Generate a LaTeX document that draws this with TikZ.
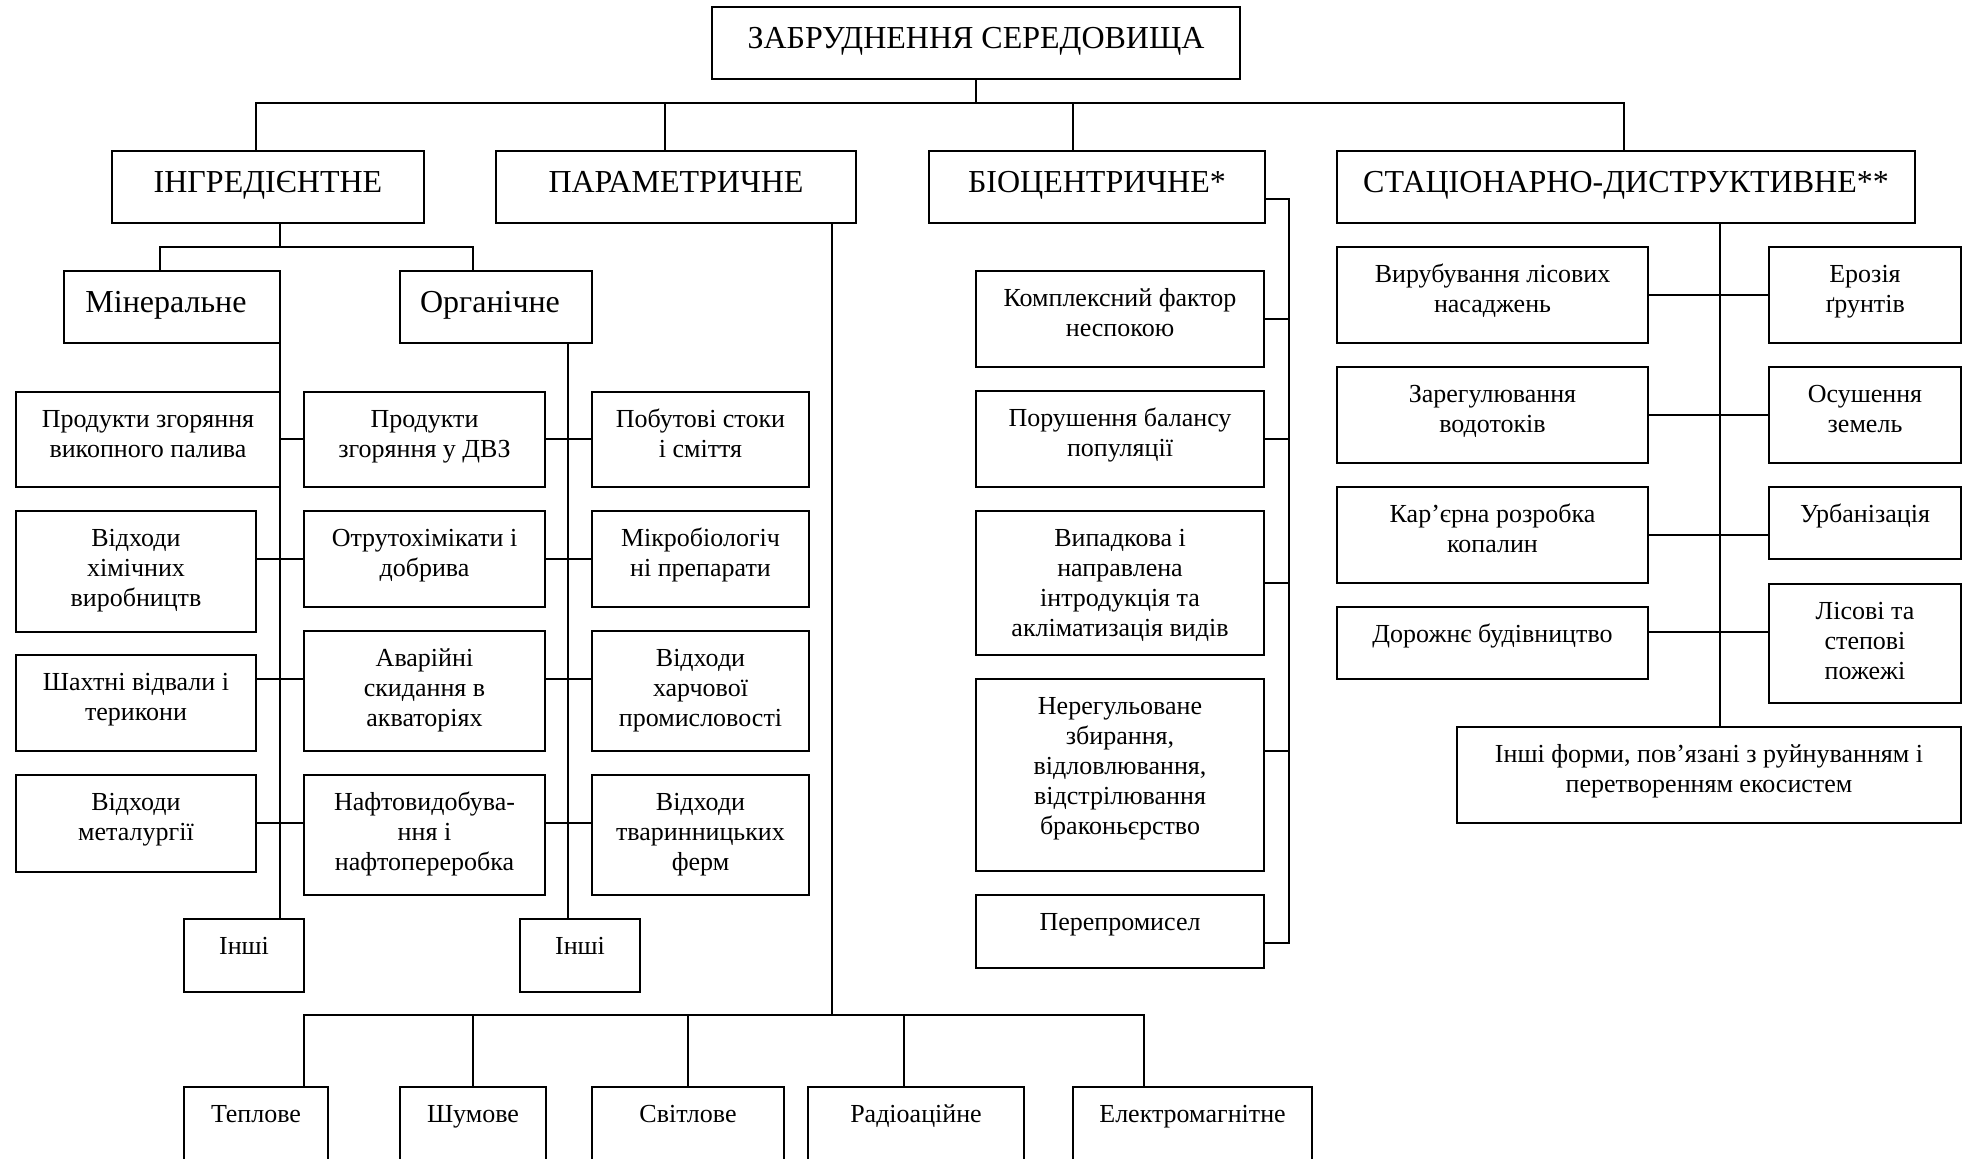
\documentclass[tikz,border=0pt]{standalone}
\usepackage{fontspec}
\setmainfont{Liberation Serif}
\usetikzlibrary{calc}
\tikzset{
 bx/.style={draw, line width=1pt, anchor=north west, inner sep=0pt, outer sep=0pt},
 lbl/.style={anchor=north, inner sep=0pt, align=center, yshift=-7.2pt},
 big/.style={font=\fontsize{16}{19}\selectfont},
 sml/.style={font=\fontsize{13}{15}\selectfont},
 ln/.style={line width=0.75pt},
}
\newcommand\mybox[7]{%
 \node[bx, minimum width={(#4-#2)*0.5pt}, minimum height={(#5-#3)*0.5pt}] (#1) at (#2,#3) {};
 \node[lbl,#6] (#1t) at (#1.north) {\strut #7};}
\begin{document}
\begin{tikzpicture}[x=0.5pt, y=-0.5pt]
\useasboundingbox (0,0) rectangle (1968,1158);
\clip (0,0) rectangle (1968,1158);
% level 0-1
\mybox{top}{712}{7}{1240}{79}{big}{ЗАБРУДНЕННЯ СЕРЕДОВИЩА}
\mybox{ingr}{112}{151}{424}{223}{big}{ІНГРЕДІЄНТНЕ}
\mybox{param}{496}{151}{856}{223}{big}{ПАРАМЕТРИЧНЕ}
\mybox{bio}{929}{151}{1265}{223}{big}{БІОЦЕНТРИЧНЕ*}
\mybox{stat}{1337}{151}{1915}{223}{big}{СТАЦІОНАРНО-ДИСТРУКТИВНЕ**}
\mybox{miner}{64}{271}{280}{343}{big,xshift=-3pt}{Мінеральне}
\mybox{organ}{400}{271}{592}{343}{big,xshift=-3pt}{Органічне}
% mineral column
\mybox{m1}{16}{392}{280}{487}{sml}{Продукти згоряння\\викопного палива}
\mybox{m2}{16}{511}{256}{632}{sml}{Відходи\\хімічних\\виробництв}
\mybox{m3}{16}{655}{256}{751}{sml}{Шахтні відвали і\\терикони}
\mybox{m4}{16}{775}{256}{872}{sml}{Відходи\\металургії}
\mybox{mI}{184}{919}{304}{992}{sml}{Інші}
% organic columns
\mybox{o1}{304}{392}{545}{487}{sml}{Продукти\\згоряння у ДВЗ}
\mybox{o2}{304}{511}{545}{607}{sml}{Отрутохімікати і\\добрива}
\mybox{o3}{304}{631}{545}{751}{sml}{Аварійні\\скидання в\\акваторіях}
\mybox{o4}{304}{775}{545}{895}{sml}{Нафтовидобува-\\ння і\\нафтопереробка}
\mybox{p1}{592}{392}{809}{487}{sml}{Побутові стоки\\і сміття}
\mybox{p2}{592}{511}{809}{607}{sml}{Мікробіологіч\\ні препарати}
\mybox{p3}{592}{631}{809}{751}{sml}{Відходи\\харчової\\промисловості}
\mybox{p4}{592}{775}{809}{895}{sml}{Відходи\\тваринницьких\\ферм}
\mybox{oI}{520}{919}{640}{992}{sml}{Інші}
% biocentric
\mybox{b1}{976}{271}{1264}{367}{sml}{Комплексний фактор\\неспокою}
\mybox{b2}{976}{391}{1264}{487}{sml}{Порушення балансу\\популяції}
\mybox{b3}{976}{511}{1264}{655}{sml}{Випадкова і\\направлена\\інтродукція та\\акліматизація видів}
\mybox{b4}{976}{679}{1264}{871}{sml}{Нерегульоване\\збирання,\\відловлювання,\\відстрілювання\\браконьєрство}
\mybox{b5}{976}{895}{1264}{968}{sml}{Перепромисел}
% stationary-destructive
\mybox{s1}{1337}{247}{1648}{343}{sml}{Вирубування лісових\\насаджень}
\mybox{s2}{1337}{367}{1648}{463}{sml}{Зарегулювання\\водотоків}
\mybox{s3}{1337}{487}{1648}{583}{sml}{Кар’єрна розробка\\копалин}
\mybox{s4}{1337}{607}{1648}{679}{sml}{Дорожнє будівництво}
\mybox{r1}{1769}{247}{1961}{343}{sml}{Ерозія\\ґрунтів}
\mybox{r2}{1769}{367}{1961}{463}{sml}{Осушення\\земель}
\mybox{r3}{1769}{487}{1961}{559}{sml}{Урбанізація}
\mybox{r4}{1769}{584}{1961}{703}{sml}{Лісові та\\степові\\пожежі}
\mybox{s5}{1457}{727}{1961}{823}{sml}{Інші форми, пов’язані з руйнуванням і\\перетворенням екосистем}
% parametric
\mybox{t1}{184}{1087}{328}{1183}{sml}{Теплове}
\mybox{t2}{400}{1087}{546}{1183}{sml}{Шумове}
\mybox{t3}{592}{1087}{784}{1183}{sml}{Світлове}
\mybox{t4}{808}{1087}{1024}{1183}{sml}{Радіоаційне}
\mybox{t5}{1073}{1087}{1312}{1183}{sml}{Електромагнітне}
% connectors: top
\coordinate (bus1) at ($(top.south)+(0,24)$);
\draw[ln] (top.south) -- (bus1);
\draw[ln] ($(ingr.north)+(-12,0)$) |- (bus1);
\draw[ln] ($(param.north)+(-11,0)$) |- (bus1);
\draw[ln] ($(bio.north)+(-24,0)$) |- (bus1);
\draw[ln] ($(stat.north)+(-2,0)$) |- (bus1);
% ingredient
\coordinate (bus2) at ($(ingr.south)+(12,24)$);
\draw[ln] ($(ingr.south)+(12,0)$) -- (bus2);
\draw[ln] ($(miner.north)+(-12,0)$) |- (bus2);
\draw[ln] ($(organ.north)+(-23,0)$) |- (bus2);
\draw[ln] (miner.south east) |- (mI.north);
\draw[ln] ($(organ.south east)+(-24,0)$) |- (oI.north);
\draw[ln] ($(o1.north west)+(0,47)$) -- ($(m1.north east)+(0,47)$);
\draw[ln] ($(o2.north west)+(0,48)$) -- ($(m2.north east)+(0,48)$);
\draw[ln] ($(o3.north west)+(0,48)$) -- ($(m3.north east)+(0,24)$);
\draw[ln] ($(o4.north west)+(0,48)$) -- ($(m4.north east)+(0,48)$);
\draw[ln] ($(o1.north east)+(0,47)$) -- ($(p1.north west)+(0,47)$);
\draw[ln] ($(o2.north east)+(0,48)$) -- ($(p2.north west)+(0,48)$);
\draw[ln] ($(o3.north east)+(0,48)$) -- ($(p3.north west)+(0,48)$);
\draw[ln] ($(o4.north east)+(0,48)$) -- ($(p4.north west)+(0,48)$);
% parametric
\coordinate (bus3) at ($(param.south east)+(-24,792)$);
\draw[ln] ($(param.south east)+(-24,0)$) -- (bus3);
\draw[ln] ($(t1.north east)+(-24,0)$) |- (bus3);
\draw[ln] (t2.north) |- (bus3);
\draw[ln] (t3.north) |- (bus3);
\draw[ln] ($(t4.north)+(-12,0)$) |- (bus3);
\draw[ln] ($(t5.north west)+(71,0)$) |- (bus3);
% biocentric
\coordinate (bv) at ($(bio.north east)+(24,48)$);
\draw[ln] ($(bio.north east)+(0,48)$) -- (bv) |- ($(b5.north east)+(0,48)$);
\draw[ln] (b1.east) -- (b1.east -| bv);
\draw[ln] (b2.east) -- (b2.east -| bv);
\draw[ln] (b3.east) -- (b3.east -| bv);
\draw[ln] ($(b4.north east)+(0,72)$) -- ++(25,0);
% stationary
\coordinate (sv) at ($(stat.south east)+(-195,0)$);
\draw[ln] (sv) -- (sv |- s5.north);
\draw[ln] (s1.east) -- (r1.west);
\draw[ln] (s2.east) -- (r2.west);
\draw[ln] (s3.east) -- (s3.east -| r3.west);
\draw[ln] ($(s4.north east)+(0,25)$) -- ($(r4.north west)+(0,48)$);
\end{tikzpicture}
\end{document}
